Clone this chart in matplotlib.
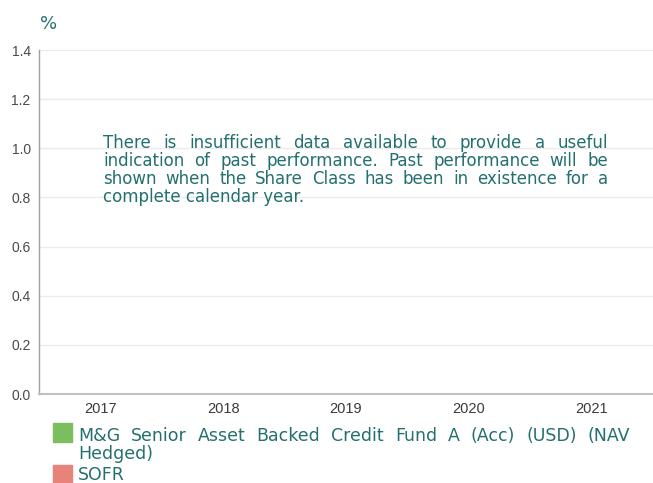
import matplotlib
matplotlib.use("Agg")
import matplotlib.pyplot as plt
import matplotlib.patches as mpatches
import numpy as np

# ---- data ----
years = ["2017", "2018", "2019", "2020", "2021"]
fund_values = [np.nan, np.nan, np.nan, np.nan, np.nan]
sofr_values = [np.nan, np.nan, np.nan, np.nan, np.nan]
series_names = ["M&G Senior Asset Backed Credit Fund A (Acc) (USD) (NAV Hedged)", "SOFR"]
y_ticks = [0.0, 0.2, 0.4, 0.6, 0.8, 1.0, 1.2, 1.4]
message_lines = [
    "There is insufficient data available to provide a useful",
    "indication of past performance. Past performance will be",
    "shown when the Share Class has been in existence for a",
    "complete calendar year.",
]
legend_lines_1 = ["M&G Senior Asset Backed Credit Fund A (Acc) (USD) (NAV", "Hedged)"]

W, H = 653, 483
TEAL = "#23706f"
GREEN = "#7cbd5e"
RED = "#e8837a"
TICK = "#4a4a4a"
FONT = "DejaVu Sans"

fig = plt.figure(figsize=(W / 100, H / 100), dpi=100)
fig.patch.set_facecolor("white")

def fx(px):
    return px / W

def fy(py):
    return (H - py) / H

ax = fig.add_axes([fx(39), fy(394), fx(653) - fx(39), fy(50) - fy(394)])
x = np.arange(len(years))
bw = 0.35
ax.bar(x - bw / 2, fund_values, bw, color=GREEN)
ax.bar(x + bw / 2, sofr_values, bw, color=RED)
ax.set_xlim(-0.5, len(years) - 0.5)
ax.set_ylim(0, 1.4)
ax.set_yticks(y_ticks)
ax.set_yticklabels([f"{v:.1f}" for v in y_ticks], fontsize=10, color=TICK, family="Liberation Sans")
ax.set_xticks(x)
ax.set_xticklabels(years, fontsize=10.5, color="#3a3a3a", family="Liberation Sans")
ax.tick_params(axis="both", length=0)
ax.tick_params(axis="y", pad=6)
ax.tick_params(axis="x", pad=6)
ax.grid(axis="y", color="#ebebeb", linewidth=1)
ax.set_axisbelow(True)
for s in ["top", "right"]:
    ax.spines[s].set_visible(False)
ax.spines["left"].set_color("#a0a0a0")
ax.spines["left"].set_linewidth(1)
ax.spines["bottom"].set_color("#c0c0c0")
ax.spines["bottom"].set_linewidth(1.5)

fig.text(fx(40), fy(29), "%", fontsize=13, color=TEAL, family=FONT, va="baseline", ha="left")

renderer = fig.canvas.get_renderer()

def justified(lines, x0, x1, baselines, size, justify_last=False):
    for i, (line, yb) in enumerate(zip(lines, baselines)):
        words = line.split(" ")
        last = (i == len(lines) - 1) and not justify_last
        if last or len(words) == 1:
            fig.text(fx(x0), fy(yb), line, fontsize=size, color=TEAL, family=FONT, va="baseline", ha="left")
            continue
        arts = [fig.text(0, fy(yb), w, fontsize=size, color=TEAL, family=FONT, va="baseline", ha="left") for w in words]
        widths = [a.get_window_extent(renderer).width for a in arts]
        gap = (x1 - x0 - sum(widths)) / (len(words) - 1)
        cur = x0
        for a, wdt in zip(arts, widths):
            a.set_x(fx(cur))
            cur += wdt + gap

justified(message_lines, 103, 608, [148, 166, 184, 202], 12)

# legend
fig.patches.append(mpatches.Rectangle((fx(53), fy(442)), fx(72) - fx(53), fy(423) - fy(442), transform=fig.transFigure, color=GREEN))
fig.patches.append(mpatches.Rectangle((fx(53), fy(484)), fx(72) - fx(53), fy(465) - fy(484), transform=fig.transFigure, color=RED))
justified(legend_lines_1, 78, 630, [441, 459], 12.5)
fig.text(fx(78), fy(480), series_names[1], fontsize=12.5, color=TEAL, family=FONT, va="baseline", ha="left")

fig.savefig("out.png", dpi=100)
